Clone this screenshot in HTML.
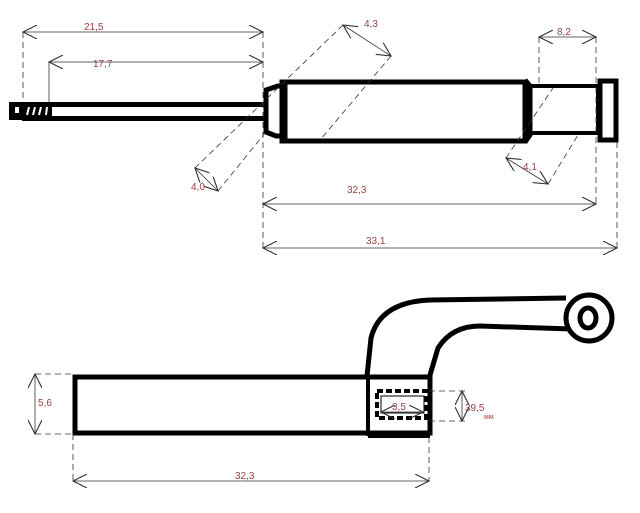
<!DOCTYPE html>
<html><head><style>
html,body{margin:0;padding:0;background:#fff;}
svg{display:block;}
text{font-family:"Liberation Sans",sans-serif;font-size:10px;fill:#9a4040;}
</style></head><body>
<svg width="640" height="513" viewBox="0 0 640 513" xmlns="http://www.w3.org/2000/svg">
<defs>
<marker id="a" viewBox="0 0 10 10" refX="10" refY="5" markerWidth="18" markerHeight="14" markerUnits="userSpaceOnUse" orient="auto-start-reverse">
<path d="M0,0 L10,5 L0,10" fill="none" stroke="#333" stroke-width="0.8"/>
</marker>
</defs>
<g fill="none" stroke="#000">
<!-- rod -->
<rect x="9" y="102" width="43" height="18" fill="#000" stroke="none"/>
<rect x="15" y="107" width="4" height="6" fill="#fff" stroke="none"/>
<g stroke="#fff" stroke-width="2">
<line x1="29" y1="107" x2="27" y2="115"/>
<line x1="35" y1="107" x2="33" y2="115"/>
<line x1="41" y1="107" x2="39" y2="115"/>
<line x1="47" y1="107" x2="46" y2="115"/>
</g>
<line x1="22" y1="104.5" x2="265" y2="104.5" stroke-width="5"/>
<line x1="22" y1="118.5" x2="265" y2="118.5" stroke-width="5"/>
<rect x="52" y="107" width="212" height="9" fill="#fff" stroke="none"/>
<!-- collar -->
<path d="M266,90 L278,86 L285,86 L285,136 L276,136 L266,132 Z" stroke-width="5"/>
<!-- body -->
<rect x="282" y="82" width="243" height="59" stroke-width="5"/>
<path d="M525,80 L530,86 L530,135 L525,142" stroke-width="5"/>
<rect x="529" y="86" width="69" height="47" stroke-width="4"/>
<rect x="600" y="81" width="16" height="59" stroke-width="5"/>
<path d="M598,103 Q601,111 598,119" stroke-width="3"/>
<!-- bottom bar -->
<rect x="75" y="377" width="355" height="56" stroke-width="5"/>
<line x1="368" y1="377" x2="368" y2="436" stroke-width="4"/>
<line x1="368" y1="436" x2="430" y2="436" stroke-width="4"/>
<path d="M367,376 L371,338 Q380,302 430,300 L566,298" stroke-width="5"/>
<path d="M430,375 L438,348 Q452,326 480,326 L572,329" stroke-width="5"/>
<circle cx="589" cy="318" r="23" fill="#fff" stroke-width="5"/>
<ellipse cx="588" cy="318" rx="8" ry="10" stroke-width="5"/>
<rect x="377" y="391" width="49" height="27" stroke-width="4" stroke-dasharray="6,3"/>
<rect x="381" y="396" width="43" height="17" stroke-width="1"/>
</g>
<g fill="none" stroke="#333" stroke-width="0.8">
<line x1="23" y1="32" x2="263" y2="32" marker-start="url(#a)" marker-end="url(#a)"/>
<line x1="49" y1="62" x2="263" y2="62" marker-start="url(#a)" marker-end="url(#a)"/>
<line x1="49" y1="62" x2="49" y2="102"/>
<line x1="263" y1="204" x2="596" y2="204" marker-start="url(#a)" marker-end="url(#a)"/>
<line x1="263" y1="248" x2="617" y2="248" marker-start="url(#a)" marker-end="url(#a)"/>
<line x1="539" y1="37" x2="596" y2="37" marker-start="url(#a)" marker-end="url(#a)"/>
<line x1="343" y1="25" x2="391" y2="56" marker-start="url(#a)" marker-end="url(#a)"/>
<line x1="195" y1="168" x2="218" y2="191" marker-start="url(#a)" marker-end="url(#a)"/>
<line x1="506" y1="158" x2="548" y2="184" marker-start="url(#a)" marker-end="url(#a)"/>
<line x1="73" y1="481" x2="429" y2="481" marker-start="url(#a)" marker-end="url(#a)"/>
<line x1="35" y1="374" x2="35" y2="434" marker-start="url(#a)" marker-end="url(#a)"/>
<line x1="462" y1="391" x2="462" y2="421" marker-start="url(#a)" marker-end="url(#a)"/>
<line x1="381" y1="412" x2="423" y2="412" marker-start="url(#a)" marker-end="url(#a)"/>
<g stroke-dasharray="6,4">
<line x1="23" y1="32" x2="23" y2="102"/>
<line x1="263" y1="32" x2="263" y2="250"/>
<line x1="539" y1="37" x2="539" y2="85"/>
<line x1="596" y1="37" x2="596" y2="204"/>
<line x1="617" y1="142" x2="617" y2="250"/>
<line x1="343" y1="25" x2="195" y2="168"/>
<line x1="391" y1="56" x2="320" y2="140"/>
<line x1="218" y1="191" x2="265" y2="133"/>
<line x1="506" y1="158" x2="553" y2="88"/>
<line x1="548" y1="184" x2="578" y2="135"/>
<line x1="35" y1="374" x2="73" y2="374"/>
<line x1="35" y1="434" x2="73" y2="434"/>
<line x1="73" y1="434" x2="73" y2="481"/>
<line x1="429" y1="437" x2="429" y2="481"/>
<line x1="429" y1="391" x2="465" y2="391"/>
<line x1="429" y1="421" x2="465" y2="421"/>
</g>
</g>
<text x="84" y="30">21,5</text>
<text x="93" y="67">17,7</text>
<text x="364" y="27">4,3</text>
<text x="557" y="35">8,2</text>
<text x="191" y="190">4,0</text>
<text x="523" y="170">4,1</text>
<text x="347" y="193">32,3</text>
<text x="366" y="244">33,1</text>
<text x="38" y="406">5,6</text>
<text x="392" y="410">3,5</text>
<text x="465" y="411">39,5</text>
<text x="484" y="419" style="font-size:7px">мм</text>
<text x="235" y="479">32,3</text>
</svg>
</body></html>
